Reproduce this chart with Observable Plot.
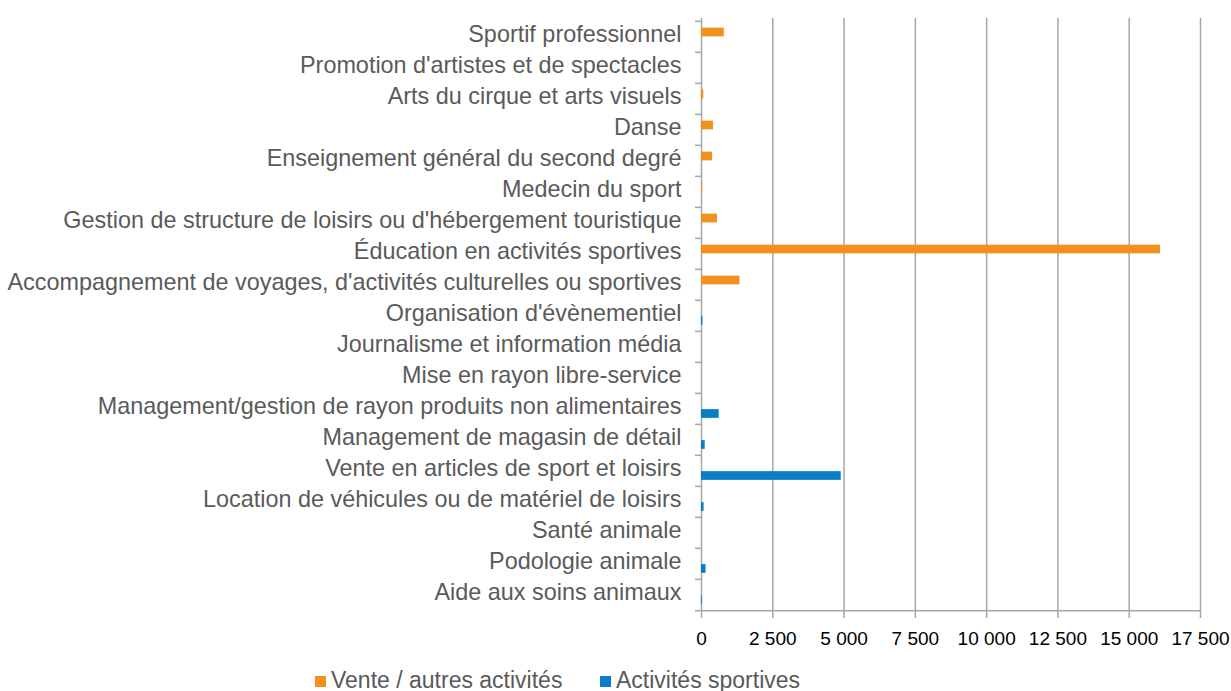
<!DOCTYPE html>
<html>
<head>
<meta charset="utf-8">
<script src="https://cdn.jsdelivr.net/npm/d3@7"></script>
<script src="https://cdn.jsdelivr.net/npm/@observablehq/plot@0.6"></script>
<style>
  body { margin: 0; background: #fff; font-family: "Liberation Sans", Arial, sans-serif; }
  #wrap { position: relative; width: 1231px; height: 691px; }
  .leg { position: absolute; top: 667px; font-size: 23px; line-height: 26px; color: #595959; white-space: nowrap; }
  .sw { display: inline-block; width: 11px; height: 11px; margin-right: 5px; vertical-align: 1px; }
</style>
</head>
<body>
<div id="wrap">
  <div id="chart"></div>
  <div class="leg" style="left:315px"><span class="sw" style="background:#F2901E"></span>Vente / autres activités</div>
  <div class="leg" style="left:600px"><span class="sw" style="background:#0B7DC5"></span>Activités sportives</div>
</div>
<script>
const categories = [
  "Sportif professionnel",
  "Promotion d'artistes et de spectacles",
  "Arts du cirque et arts visuels",
  "Danse",
  "Enseignement général du second degré",
  "Medecin du sport",
  "Gestion de structure de loisirs ou d'hébergement touristique",
  "Éducation en activités sportives",
  "Accompagnement de voyages, d'activités culturelles ou sportives",
  "Organisation d'évènementiel",
  "Journalisme et information média",
  "Mise en rayon libre-service",
  "Management/gestion de rayon produits non alimentaires",
  "Management de magasin de détail",
  "Vente en articles de sport et loisirs",
  "Location de véhicules ou de matériel de loisirs",
  "Santé animale",
  "Podologie animale",
  "Aide aux soins animaux"
];
const venteAutres = [800, 0, 80, 420, 390, 40, 560, 16100, 1350, 0, 0, 0, 0, 0, 0, 0, 0, 0, 0];
const activitesSportives = [0, 0, 0, 0, 0, 0, 0, 0, 0, 50, 0, 0, 620, 130, 4900, 90, 0, 160, 30];
const xTicks = [0, 2500, 5000, 7500, 10000, 12500, 15000, 17500];

const venteData = categories.map((c, i) => ({category: c, value: venteAutres[i]}));
const sportData = categories.map((c, i) => ({category: c, value: activitesSportives[i]}));

const fmt = d3.formatLocale({decimal: ",", thousands: "\u00a0", grouping: [3], currency: ["", ""]}).format(",");

const height = 650, marginTop = 18, marginBottom = 38;
const bw = (height - marginTop - marginBottom) / categories.length;
const gridColor = "#a6a6a6";

const chart = Plot.plot({
  width: 1231,
  height,
  marginLeft: 701,
  marginRight: 31,
  marginTop,
  marginBottom,
  style: {fontFamily: "'Liberation Sans', Arial, sans-serif", background: "#fff"},
  x: {domain: [0, 17500], ticks: xTicks},
  y: {domain: categories, padding: 0},
  marks: [
    Plot.gridX(xTicks, {stroke: gridColor, strokeOpacity: 1, strokeWidth: 1.5}),
    Plot.axisX(xTicks, {anchor: "bottom", tickSize: 6, tickPadding: 13, stroke: gridColor, strokeWidth: 1.5,
      tickFormat: fmt, fontSize: 19, fill: "#000", label: null}),
    Plot.axisY({tickSize: 6, text: null, dy: -bw / 2, stroke: gridColor, strokeWidth: 1.5, label: null}),
    Plot.axisY({tickSize: 0, tickPadding: 20, dy: -3, fontSize: 23.4, fill: "#5a5a5a", label: null}),
    Plot.ruleY([categories[categories.length - 1]], {dy: bw / 2, insetLeft: -6, stroke: gridColor, strokeWidth: 1.5}),
    Plot.barX(venteData, {x: "value", y: "category", fill: "#F2901E", insetTop: bw / 2 - 9, insetBottom: bw / 2}),
    Plot.barX(sportData, {x: "value", y: "category", fill: "#0B7DC5", insetTop: bw / 2 + 0.5, insetBottom: bw / 2 - 9.5})
  ]
});
document.getElementById("chart").append(chart);
</script>
</body>
</html>
